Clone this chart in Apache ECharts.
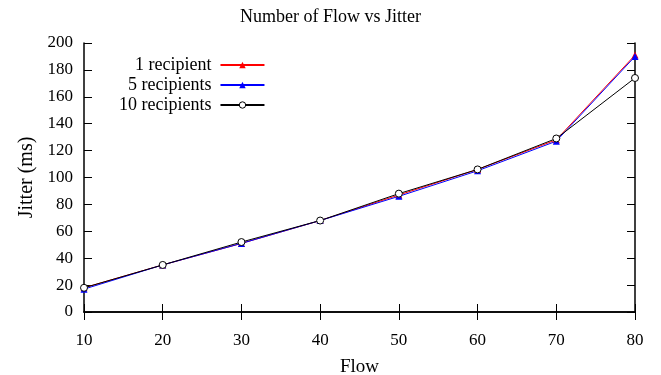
<!DOCTYPE html>
<html><head><meta charset="utf-8">
<script src="https://cdn.jsdelivr.net/npm/echarts@6/dist/echarts.min.js"></script>
<style>html,body{margin:0;padding:0;background:#fff}#c{width:661px;height:375px}</style>
</head><body><div id="c"></div>
<script>
const flows = [10, 20, 30, 40, 50, 60, 70, 80];
const oneRecipient = [18, 35, 51, 68, 87, 106, 128, 191];
const fiveRecipients = [17, 35, 51, 68, 86, 105, 127, 190];
const tenRecipients = [18, 35, 52, 68, 88, 106, 129, 174];
const seriesNames = ['1 recipient', '5 recipients', '10 recipients'];

const font = 'Liberation Serif';
function pairs(vals){ return flows.map((f,i)=>[f, vals[i]]); }
const chart = echarts.init(document.getElementById('c'));
const axisLine = {show:true, lineStyle:{color:'#000', width:1.5}};
const tick = {show:true, inside:true, length:8, lineStyle:{color:'#000', width:1}};
chart.setOption({
  animation:false,
  title:{text:'Number of Flow vs Jitter', left:'center', top:3,
    textStyle:{fontFamily:font, fontSize:18, fontWeight:'normal', color:'#000'}},
  grid:{left:84, right:26, top:43, bottom:63, containLabel:false, outerBoundsMode:'none'},
  legend:{orient:'vertical', align:'right', left:114, top:51, itemGap:2, itemWidth:44, itemHeight:8,
    itemStyle:{borderWidth:1},
    textStyle:{fontFamily:font, fontSize:18, lineHeight:18, color:'#000', padding:[0,4,0,0]},
    data:seriesNames},
  xAxis:[
    {type:'value', min:10, max:80, interval:10, position:'bottom',
     name:'Flow', nameLocation:'middle', nameGap:46,
     nameTextStyle:{fontFamily:font, fontSize:19, color:'#000'},
     axisLine:axisLine, axisTick:tick, splitLine:{show:false},
     axisLabel:{fontFamily:font, fontSize:17, color:'#000', margin:20}},
    {type:'value', min:10, max:80, interval:10, position:'top',
     axisLine:axisLine, axisTick:tick, splitLine:{show:false}, axisLabel:{show:false}}
  ],
  yAxis:[
    {type:'value', min:0, max:200, interval:20, position:'left',
     name:'Jitter (ms)', nameLocation:'middle', nameGap:46,
     nameTextStyle:{fontFamily:font, fontSize:20, color:'#000'},
     axisLine:axisLine, axisTick:tick, splitLine:{show:false},
     axisLabel:{fontFamily:font, fontSize:17, color:'#000', margin:11}},
    {type:'value', min:0, max:200, interval:20, position:'right',
     axisLine:axisLine, axisTick:tick, splitLine:{show:false}, axisLabel:{show:false}}
  ],
  series:[
    {name:seriesNames[0], type:'line', data:pairs(oneRecipient), symbol:'triangle', symbolSize:7,
     color:'#ff0000', lineStyle:{width:1, color:'#ff0000'}, itemStyle:{color:'#ff0000'}},
    {name:seriesNames[1], type:'line', data:pairs(fiveRecipients), symbol:'triangle', symbolSize:7,
     color:'#0000ff', lineStyle:{width:1, color:'#0000ff'}, itemStyle:{color:'#0000ff'}},
    {name:seriesNames[2], type:'line', data:pairs(tenRecipients), symbol:'circle', symbolSize:7,
     color:'#000', lineStyle:{width:1, color:'#000'}, itemStyle:{color:'#fff', borderColor:'#000', borderWidth:1}}
  ]
});
</script></body></html>
